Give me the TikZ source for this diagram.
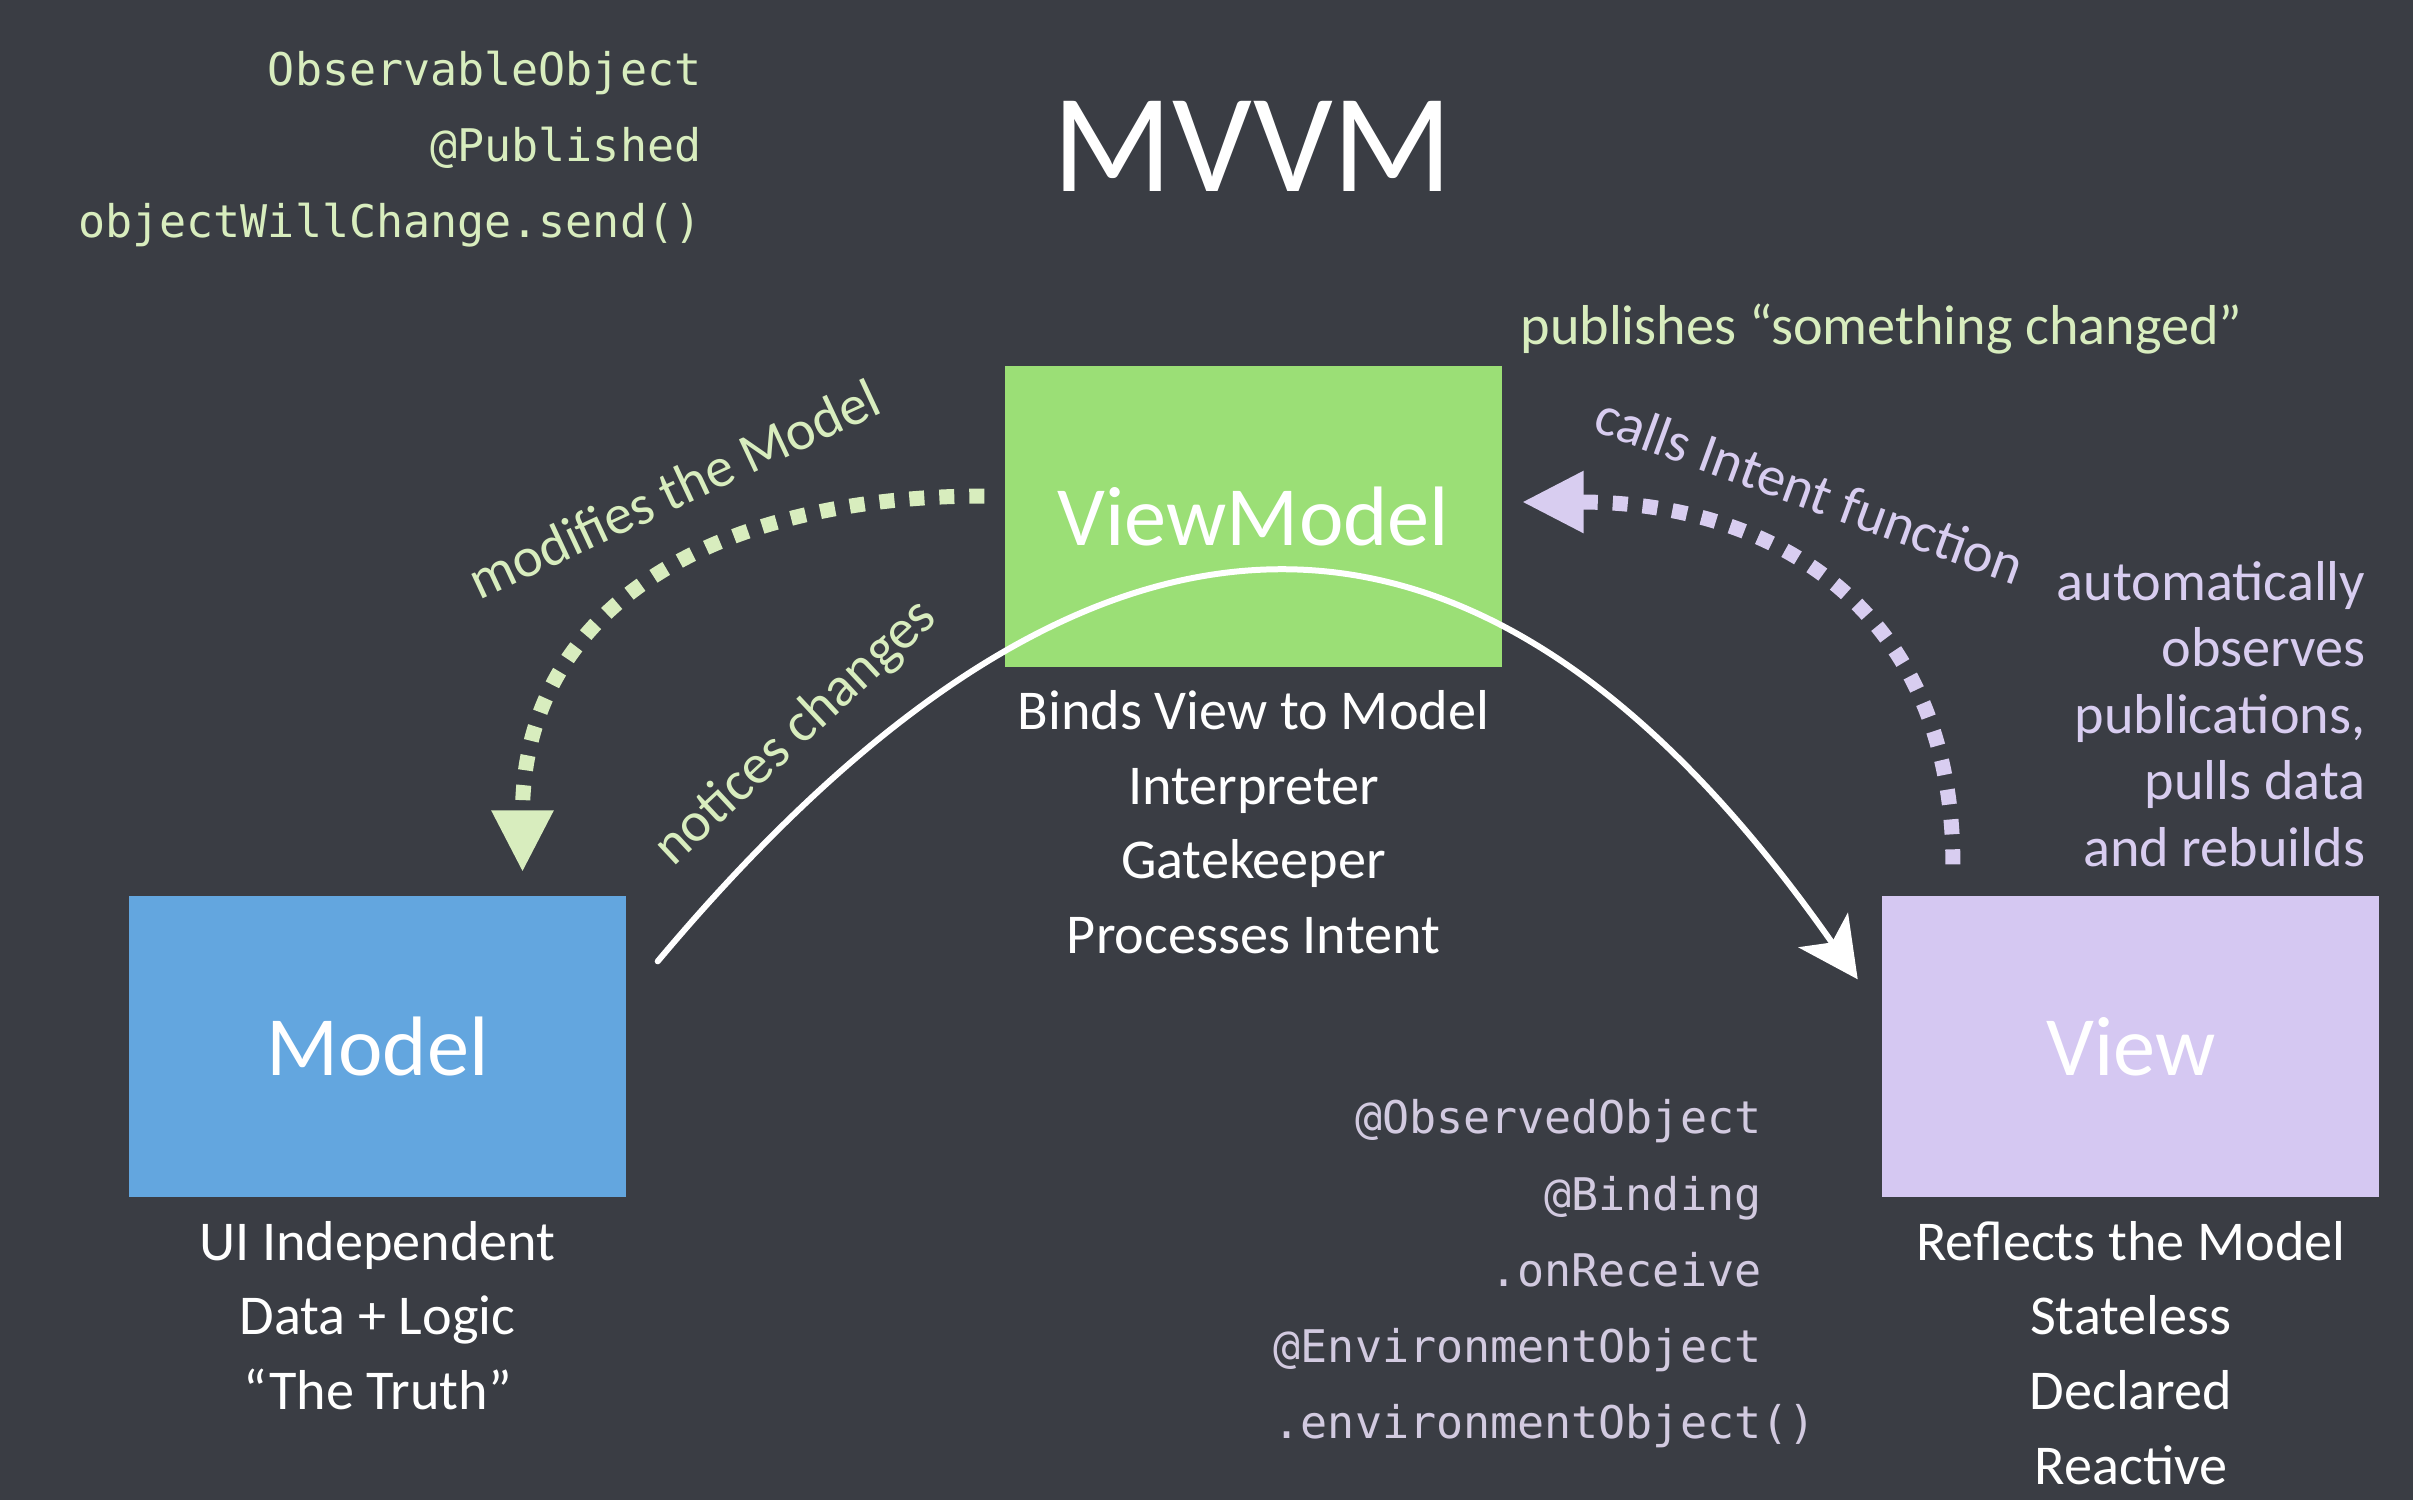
\documentclass[tikz,border=0pt]{standalone}
\usepackage{fontspec}
\setmainfont{Carlito}
\setmonofont{DejaVu Sans Mono}
\usetikzlibrary{
  positioning,
  arrows.meta
}
\definecolor{board}{HTML}{3A3D44}
\definecolor{vmgreen}{HTML}{9BDF76}
\definecolor{modelblue}{HTML}{63A6DF}
\definecolor{viewlilac}{HTML}{D5C8F2}
\definecolor{palegreen}{HTML}{D8EDBE}
\definecolor{palelilac}{HTML}{D8CDF0}
\definecolor{codelilac}{HTML}{D2CAE0}
\tikzset{
  box/.style={minimum width=4.97cm, minimum height=3.01cm, inner sep=0pt,
    text=white, font=\fontsize{24}{28}\selectfont},
  notes/.style={inner sep=0pt, align=center, text=white,
    font=\fontsize{16}{21.2}\selectfont},
  side/.style={inner sep=0pt, font=\fontsize{16}{18.9}\selectfont},
  codetext/.style={inner sep=0pt, align=right, anchor=east,
    font=\ttfamily\fontsize{12.8}{21.7}\selectfont},
  dots/.style={line width=1.5mm, dash pattern=on 1.5mm off 1.5mm,
    -{Triangle[length=6.2mm, width=5.8mm]}},
  chalk/.style={line width=0.6mm, white, line cap=round,
    -{Stealth[length=6mm, width=6mm, inset=1.5mm]}}
}
\begin{document}
\begin{tikzpicture}
  \fill[board] (0,0) rectangle (24.13,-15);
  \useasboundingbox (0,0) rectangle (24.13,-15);

  \node[text=white, font=\fontsize{40}{44}\selectfont] (mvvm) at (12.53,-1.46) {MVVM};

  % the three parts
  \node[box, fill=vmgreen] (vm) at (12.535,-5.16) {ViewModel};
  \node[box, fill=modelblue] (model) at (3.775,-10.465) {Model};
  \node[box, fill=viewlilac, right=12.55cm of model] (view) {View};

  \node[notes, below=2.3mm of vm] (vmnotes) {Binds View to Model\\Interpreter\\Gatekeeper\\Processes Intent};
  \node[notes, below=2.3mm of model] (modelnotes) {UI Independent\\Data + Logic\\“The Truth”};
  \node[notes, below=2.3mm of view] (viewnotes) {Reflects the Model\\Stateless\\Declared\\Reactive};

  % swift keywords
  \node[codetext, text=palegreen] (vmcode) at (7.02,-1.49) {ObservableObject\\@Published\\objectWillChange.send()};
  \node[codetext, text=codelilac] (viewcode) at (17.62,-12.74) {@ObservedObject\\@Binding\\.onReceive\\@EnvironmentObject\\.environmentObject\rlap{()}};

  % arrows
  \draw[dots, palegreen] ([xshift=-2mm, yshift=2mm]vm.west)
    to[out=180, in=90, looseness=1.15] ([xshift=14.5mm, yshift=2.3mm]model.north);
  \draw[dots, palelilac] ([xshift=-17.8mm, yshift=3.1mm]view.north)
    to[out=90, in=0, looseness=1.15] ([xshift=1.9mm, yshift=1.4mm]vm.east);
  \draw[chalk] ([xshift=3.1mm, yshift=-6.6mm]model.north east)
    to[out=50, in=125, looseness=1.42] ([xshift=-2.4mm, yshift=-8.4mm]view.north west);

  \node[side, text=palegreen, rotate=25] (modifies) at (6.74,-4.89) {modifies the Model};
  \node[side, text=palegreen, rotate=43] (notices) at (7.96,-7.33) {notices changes};
  \node[side, text=palegreen] (publishes) at (18.815,-3.29) {publishes “something changed”};
  \node[side, text=palelilac, rotate=-20] (calls) at (18.10,-4.90) {calls Intent function};
  \node[side, text=palelilac, align=right, anchor=east] (observes) at (23.66,-7.14)
    {automatically\\observes\\publications,\\pulls data\\and rebuilds};
\end{tikzpicture}
\end{document}
